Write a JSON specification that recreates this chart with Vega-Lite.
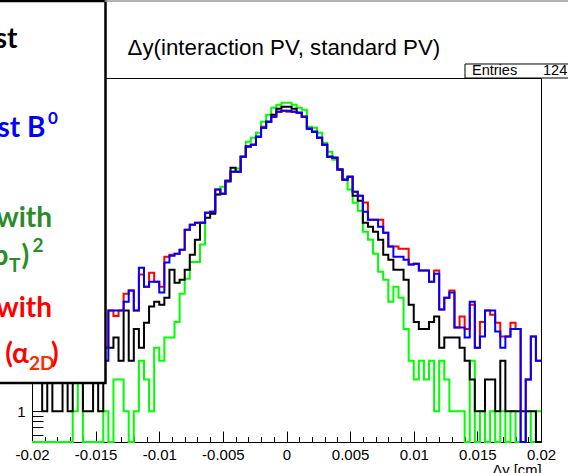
{
  "$schema": "https://vega.github.io/schema/vega-lite/v6.json",
  "width": 509,
  "height": 364,
  "autosize": "none",
  "padding": {"left": 32, "top": 78, "right": 27, "bottom": 31},
  "background": "white",
  "config": {"view": {"stroke": "black", "strokeWidth": 1}},
  "layer": [
    {
      "data": {"values": [
        {"x":-0.02,"k":2.5,"r":3,"b":3,"g":0},
        {"x":-0.0196,"k":2.5,"r":4,"b":4,"g":0},
        {"x":-0.0192,"k":1,"r":2.5,"b":2.5,"g":0},
        {"x":-0.0188,"k":2.2,"r":3.5,"b":3.5,"g":0},
        {"x":-0.0184,"k":1,"r":3,"b":3,"g":0},
        {"x":-0.018,"k":1,"r":4.5,"b":4.5,"g":0},
        {"x":-0.0176,"k":2.5,"r":3.5,"b":3.5,"g":0},
        {"x":-0.0172,"k":1,"r":4,"b":4,"g":0},
        {"x":-0.0168,"k":2.8,"r":3,"b":3,"g":1},
        {"x":-0.0164,"k":2.3,"r":5,"b":5,"g":2},
        {"x":-0.016,"k":1,"r":4,"b":4,"g":0},
        {"x":-0.0156,"k":1,"r":5.5,"b":5.5,"g":0},
        {"x":-0.0152,"k":2.5,"r":4.5,"b":4.5,"g":0},
        {"x":-0.0148,"k":1,"r":5,"b":5,"g":0},
        {"x":-0.0144,"k":4,"r":4,"b":3,"g":1},
        {"x":-0.014,"k":4,"r":9,"b":9,"g":0},
        {"x":-0.0136,"k":5,"r":8,"b":9,"g":2},
        {"x":-0.0132,"k":3,"r":9,"b":9,"g":2},
        {"x":-0.0128,"k":9,"r":13,"b":10.9,"g":1},
        {"x":-0.0124,"k":3,"r":13.9,"b":13.9,"g":0},
        {"x":-0.012,"k":6,"r":9,"b":9,"g":1},
        {"x":-0.0116,"k":4,"r":19.7,"b":22.9,"g":3},
        {"x":-0.0112,"k":6.9,"r":15.1,"b":15.1,"g":2},
        {"x":-0.0108,"k":9.8,"r":20.5,"b":16.9,"g":1},
        {"x":-0.0104,"k":10.9,"r":16.9,"b":16.9,"g":4},
        {"x":-0.01,"k":10.2,"r":15.1,"b":13.3,"g":3},
        {"x":-0.0096,"k":11.9,"r":29.1,"b":25.6,"g":5},
        {"x":-0.0092,"k":21.9,"r":30.4,"b":29.8,"g":5},
        {"x":-0.0088,"k":16.5,"r":31.1,"b":31.1,"g":7},
        {"x":-0.0084,"k":17.6,"r":33.9,"b":33.9,"g":13},
        {"x":-0.008,"k":21.9,"r":52.5,"b":52.5,"g":18},
        {"x":-0.0076,"k":30.4,"r":58.6,"b":58.6,"g":26},
        {"x":-0.0072,"k":42.2,"r":61.2,"b":61.2,"g":26},
        {"x":-0.0068,"k":61.2,"r":61.2,"b":61.2,"g":38},
        {"x":-0.0064,"k":68.3,"r":76.2,"b":76.2,"g":76},
        {"x":-0.006,"k":74.5,"r":77.8,"b":77.8,"g":76},
        {"x":-0.0056,"k":113,"r":126,"b":126,"g":113},
        {"x":-0.0052,"k":115,"r":115,"b":115,"g":134},
        {"x":-0.0048,"k":150,"r":153,"b":153,"g":153},
        {"x":-0.0044,"k":203,"r":186,"b":186,"g":186},
        {"x":-0.004,"k":186,"r":186,"b":186,"g":200},
        {"x":-0.0036,"k":258,"r":258,"b":258,"g":258},
        {"x":-0.0032,"k":322,"r":322,"b":322,"g":359},
        {"x":-0.0028,"k":336,"r":336,"b":336,"g":391},
        {"x":-0.0024,"k":400,"r":400,"b":400,"g":436},
        {"x":-0.002,"k":486,"r":497,"b":486,"g":555},
        {"x":-0.0016,"k":555,"r":555,"b":555,"g":646},
        {"x":-0.0012,"k":646,"r":618,"b":618,"g":753},
        {"x":-0.0008,"k":737,"r":690,"b":690,"g":804},
        {"x":-0.0004,"k":770,"r":705,"b":705,"g":840},
        {"x":0,"k":770,"r":690,"b":705,"g":840},
        {"x":0.0004,"k":737,"r":690,"b":690,"g":804},
        {"x":0.0008,"k":675,"r":675,"b":675,"g":753},
        {"x":0.0012,"k":618,"r":618,"b":618,"g":721},
        {"x":0.0016,"k":476,"r":476,"b":476,"g":497},
        {"x":0.002,"k":446,"r":446,"b":446,"g":486},
        {"x":0.0024,"k":391,"r":391,"b":391,"g":436},
        {"x":0.0028,"k":336,"r":336,"b":336,"g":351},
        {"x":0.0032,"k":258,"r":258,"b":258,"g":288},
        {"x":0.0036,"k":253,"r":253,"b":253,"g":242},
        {"x":0.004,"k":195,"r":195,"b":195,"g":195},
        {"x":0.0044,"k":156,"r":156,"b":156,"g":156},
        {"x":0.0048,"k":167,"r":167,"b":167,"g":126},
        {"x":0.0052,"k":110,"r":120,"b":120,"g":94.7},
        {"x":0.0056,"k":98.9,"r":110,"b":110,"g":79.5},
        {"x":0.006,"k":61.2,"r":95,"b":77.8,"g":50.3},
        {"x":0.0064,"k":56.1,"r":65.3,"b":65.3,"g":42.2},
        {"x":0.0068,"k":50.3,"r":65.3,"b":65.3,"g":31.1},
        {"x":0.0072,"k":42.2,"r":65.3,"b":56.1,"g":21},
        {"x":0.0076,"k":30.4,"r":49.2,"b":49.2,"g":17.6},
        {"x":0.008,"k":27.3,"r":36.3,"b":36.3,"g":10.9},
        {"x":0.0084,"k":21.9,"r":36.3,"b":29.1,"g":15.1},
        {"x":0.0088,"k":21.9,"r":34.7,"b":29.1,"g":11.9},
        {"x":0.0092,"k":17.6,"r":34.7,"b":27.3,"g":6},
        {"x":0.0096,"k":10.2,"r":24.5,"b":24.5,"g":3},
        {"x":0.01,"k":7,"r":25,"b":25,"g":2},
        {"x":0.0104,"k":6,"r":21.5,"b":21.5,"g":3},
        {"x":0.0108,"k":6,"r":21.5,"b":21.5,"g":2},
        {"x":0.0112,"k":7,"r":16.9,"b":16.9,"g":3},
        {"x":0.0116,"k":7.9,"r":21.5,"b":20.1,"g":1},
        {"x":0.012,"k":4,"r":9.2,"b":9.2,"g":3},
        {"x":0.0124,"k":5,"r":11.9,"b":11.9,"g":2},
        {"x":0.0128,"k":5,"r":13.9,"b":13.3,"g":1},
        {"x":0.0132,"k":5,"r":6.2,"b":6.2,"g":1},
        {"x":0.0136,"k":4,"r":7.9,"b":6.2,"g":1},
        {"x":0.014,"k":3,"r":6,"b":5,"g":0},
        {"x":0.0144,"k":2,"r":10.2,"b":10.9,"g":3},
        {"x":0.0148,"k":1,"r":4,"b":4,"g":0},
        {"x":0.0152,"k":1,"r":7,"b":5.1,"g":1},
        {"x":0.0156,"k":2,"r":9,"b":9,"g":0},
        {"x":0.016,"k":2,"r":8.2,"b":9,"g":1},
        {"x":0.0164,"k":1,"r":6.9,"b":5.7,"g":0},
        {"x":0.0168,"k":3,"r":5.1,"b":4,"g":1},
        {"x":0.0172,"k":1,"r":5.1,"b":5.1,"g":0},
        {"x":0.0176,"k":1,"r":6.9,"b":6,"g":1},
        {"x":0.018,"k":1,"r":6,"b":6,"g":0},
        {"x":0.0184,"k":1,"r":0,"b":0,"g":0},
        {"x":0.0188,"k":1,"r":2,"b":2,"g":1},
        {"x":0.0192,"k":1,"r":5.1,"b":5.1,"g":0},
        {"x":0.0196,"k":0,"r":3,"b":3,"g":1},
        {"x":0.02,"k":0,"r":3,"b":3,"g":1}
      ]},
      "resolve": {"axis": {"x": "independent", "y": "independent"}},
      "layer": [
        {
          "mark": {"type": "line", "interpolate": "step-after", "color": "#00ff00", "strokeWidth": 2},
          "encoding": {
            "x": {"field": "x", "type": "quantitative", "scale": {"domain": [-0.02, 0.02], "nice": false, "zero": false},
              "axis": {"orient": "bottom", "values": [-0.02, -0.015, -0.01, -0.005, 0, 0.005, 0.01, 0.015, 0.02], "tickSize": -11, "tickColor": "black", "labelPadding": 16, "labelExpr": "datum.value == 0 ? '0' : (datum.value < 0 ? '-' : '') + format(abs(datum.value), '~g')", "labelFont": "Liberation Sans", "labelFontSize": 15, "labelColor": "black", "labelFlush": false, "labelOverlap": false, "domain": false, "grid": false, "title": "Δy [cm]", "titleFont": "Liberation Sans", "titleFontSize": 14.7, "titleFontWeight": "normal", "titleColor": "black", "titleAnchor": "end", "titleAlign": "right", "titleBaseline": "alphabetic", "titleX": 509, "titleY": 32}},
            "y": {"field": "g", "type": "quantitative", "scale": {"type": "log", "domain": [0.51, 1440], "nice": false, "clamp": true},
              "axis": {"orient": "left", "values": [1, 10, 100, 1000], "tickSize": -15, "tickColor": "black", "labelPadding": 22, "labelExpr": "datum.value == 1 ? '1' : datum.value == 10 ? '10' : datum.value == 100 ? '10²' : '10³'", "labelFont": "Liberation Sans", "labelFontSize": 15, "labelColor": "black", "domain": false, "grid": false, "title": null}}
          }
        },
        {
          "mark": {"type": "line", "interpolate": "step-after", "color": "#000000", "strokeWidth": 2},
          "encoding": {
            "x": {"field": "x", "type": "quantitative",
              "axis": {"orient": "bottom", "values": [-0.019,-0.018,-0.017,-0.016,-0.014,-0.013,-0.012,-0.011,-0.009,-0.008,-0.007,-0.006,-0.004,-0.003,-0.002,-0.001,0.001,0.002,0.003,0.004,0.006,0.007,0.008,0.009,0.011,0.012,0.013,0.014,0.016,0.017,0.018,0.019], "tickSize": -5.5, "tickColor": "black", "labels": false, "domain": false, "grid": false, "title": null}},
            "y": {"field": "k", "type": "quantitative",
              "axis": {"orient": "left", "values": [0.6,0.7,0.8,0.9,2,3,4,5,6,7,8,9,20,30,40,50,60,70,80,90,200,300,400,500,600,700,800,900], "tickSize": -11, "tickColor": "black", "labels": false, "domain": false, "grid": false, "title": null}}
          }
        },
        {
          "mark": {"type": "line", "interpolate": "step-after", "color": "#ff0000", "strokeWidth": 2},
          "encoding": {
            "x": {"field": "x", "type": "quantitative", "axis": null},
            "y": {"field": "r", "type": "quantitative", "axis": null}
          }
        },
        {
          "mark": {"type": "line", "interpolate": "step-after", "color": "#0000ff", "strokeWidth": 2},
          "encoding": {
            "x": {"field": "x", "type": "quantitative", "axis": null},
            "y": {"field": "b", "type": "quantitative", "axis": null}
          }
        }
      ]
    },
    {
      "data": {"values": [{}]},
      "layer": [
        {
          "mark": {"type": "rect", "fill": "white", "stroke": "black", "strokeWidth": 2.5},
          "encoding": {
            "x": {"datum": -0.0229, "type": "quantitative", "axis": null},
            "x2": {"datum": -0.014224},
            "y": {"datum": 7736, "type": "quantitative", "scale": {"type": "log", "domain": [0.51, 1440], "nice": false}, "axis": null},
            "y2": {"datum": 1.849}
          }
        },
        {
          "mark": {"type": "rule", "color": "#999999", "strokeWidth": 1.5},
          "encoding": {
            "x": {"datum": -0.0143, "type": "quantitative", "axis": null},
            "x2": {"datum": 0.0235},
            "y": {"datum": 7736, "type": "quantitative", "axis": null}
          }
        },
        {
          "mark": {"type": "text", "text": "Δy(interaction PV, standard PV)", "align": "left", "baseline": "alphabetic", "font": "Liberation Sans", "fontSize": 22.3, "color": "black"},
          "encoding": {"x": {"datum": -0.012495, "type": "quantitative", "axis": null}, "y": {"datum": 2380, "type": "quantitative", "axis": null}}
        },
        {
          "mark": {"type": "rect", "fill": "white", "stroke": "black", "strokeWidth": 1},
          "encoding": {
            "x": {"datum": 0.014027, "type": "quantitative", "axis": null},
            "x2": {"datum": 0.0235},
            "y": {"datum": 1955, "type": "quantitative", "axis": null},
            "y2": {"datum": 1440}
          }
        },
        {
          "mark": {"type": "text", "text": "Entries", "align": "left", "baseline": "alphabetic", "font": "Liberation Sans", "fontSize": 14.5, "color": "black"},
          "encoding": {"x": {"datum": 0.014578, "type": "quantitative", "axis": null}, "y": {"datum": 1521, "type": "quantitative", "axis": null}}
        },
        {
          "mark": {"type": "text", "text": "124", "align": "left", "baseline": "alphabetic", "font": "Liberation Sans", "fontSize": 14.5, "color": "black"},
          "encoding": {"x": {"datum": 0.020157, "type": "quantitative", "axis": null}, "y": {"datum": 1521, "type": "quantitative", "axis": null}}
        },
        {
          "mark": {"type": "text", "text": "st", "align": "right", "baseline": "alphabetic", "font": "Lato", "fontWeight": "bold", "fontSize": 28, "color": "black"},
          "encoding": {"x": {"datum": -0.021139, "type": "quantitative", "axis": null}, "y": {"datum": 2773, "type": "quantitative", "axis": null}}
        },
        {
          "mark": {"type": "text", "text": "st B", "align": "right", "baseline": "alphabetic", "font": "Lato", "fontWeight": "bold", "fontSize": 28, "color": "#0000ff"},
          "encoding": {"x": {"datum": -0.018939, "type": "quantitative", "axis": null}, "y": {"datum": 397, "type": "quantitative", "axis": null}}
        },
        {
          "mark": {"type": "text", "text": "0", "align": "left", "baseline": "alphabetic", "font": "Lato", "fontWeight": "bold", "fontSize": 17, "color": "#0000ff"},
          "encoding": {"x": {"datum": -0.018743, "type": "quantitative", "axis": null}, "y": {"datum": 527.8, "type": "quantitative", "axis": null}}
        },
        {
          "mark": {"type": "text", "text": "with", "align": "right", "baseline": "alphabetic", "font": "Lato", "fontWeight": "bold", "fontSize": 28, "color": "#2a8c2a"},
          "encoding": {"x": {"datum": -0.018428, "type": "quantitative", "axis": null}, "y": {"datum": 55.7, "type": "quantitative", "axis": null}}
        },
        {
          "mark": {"type": "text", "text": "(p", "align": "right", "baseline": "alphabetic", "font": "Lato", "fontWeight": "bold", "fontSize": 28, "color": "#2a8c2a"},
          "encoding": {"x": {"datum": -0.021847, "type": "quantitative", "axis": null}, "y": {"datum": 24.3, "type": "quantitative", "axis": null}}
        },
        {
          "mark": {"type": "text", "text": "T", "align": "left", "baseline": "alphabetic", "font": "Lato", "fontWeight": "bold", "fontSize": 19, "color": "#2a8c2a"},
          "encoding": {"x": {"datum": -0.021807, "type": "quantitative", "axis": null}, "y": {"datum": 20.9, "type": "quantitative", "axis": null}}
        },
        {
          "mark": {"type": "text", "text": ")", "align": "left", "baseline": "alphabetic", "font": "Lato", "fontWeight": "bold", "fontSize": 28, "color": "#2a8c2a"},
          "encoding": {"x": {"datum": -0.020825, "type": "quantitative", "axis": null}, "y": {"datum": 24.3, "type": "quantitative", "axis": null}}
        },
        {
          "mark": {"type": "text", "text": "2", "align": "left", "baseline": "alphabetic", "font": "Lato", "fontWeight": "bold", "fontSize": 19, "color": "#2a8c2a"},
          "encoding": {"x": {"datum": -0.019961, "type": "quantitative", "axis": null}, "y": {"datum": 32.3, "type": "quantitative", "axis": null}}
        },
        {
          "mark": {"type": "text", "text": "with", "align": "right", "baseline": "alphabetic", "font": "Lato", "fontWeight": "bold", "fontSize": 28, "color": "#ff0000"},
          "encoding": {"x": {"datum": -0.018428, "type": "quantitative", "axis": null}, "y": {"datum": 7.81, "type": "quantitative", "axis": null}}
        },
        {
          "mark": {"type": "text", "text": "(α", "align": "right", "baseline": "alphabetic", "font": "Lato", "fontWeight": "bold", "fontSize": 28, "color": "#ff0000"},
          "encoding": {"x": {"datum": -0.020236, "type": "quantitative", "axis": null}, "y": {"datum": 2.862, "type": "quantitative", "axis": null}}
        },
        {
          "mark": {"type": "text", "text": "2D", "align": "left", "baseline": "alphabetic", "font": "Lato", "fontWeight": "bold", "fontSize": 19, "color": "#ff2a00"},
          "encoding": {"x": {"datum": -0.020236, "type": "quantitative", "axis": null}, "y": {"datum": 2.456, "type": "quantitative", "axis": null}}
        },
        {
          "mark": {"type": "text", "text": ")", "align": "left", "baseline": "alphabetic", "font": "Lato", "fontWeight": "bold", "fontSize": 28, "color": "#ff0000"},
          "encoding": {"x": {"datum": -0.018507, "type": "quantitative", "axis": null}, "y": {"datum": 2.862, "type": "quantitative", "axis": null}}
        }
      ]
    }
  ],
  "resolve": {"scale": {"y": "independent"}, "axis": {"x": "independent", "y": "independent"}}
}
